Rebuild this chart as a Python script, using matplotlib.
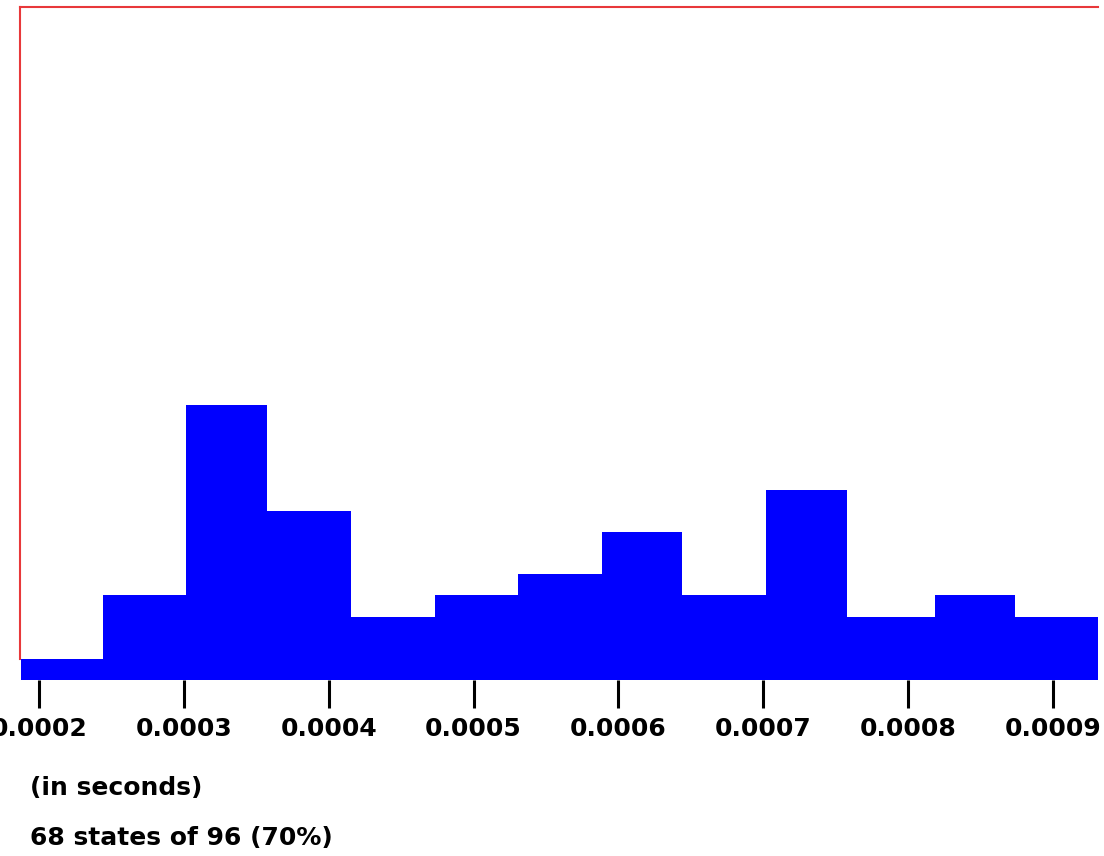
import matplotlib

matplotlib.use("Agg")
import matplotlib.pyplot as plt
import numpy as np

# histogram of state durations (seconds)
bin_edges = [0.0001876, 0.0002442, 0.0003016, 0.0003576, 0.0004156, 0.0004737, 0.0005310,
             0.0005884, 0.0006436, 0.0007017, 0.0007577, 0.0008185, 0.0008738, 0.0009311]
counts = [1, 4, 13, 8, 3, 4, 5, 7, 4, 9, 3, 4, 3]
tick_values = [0.0002, 0.0003, 0.0004, 0.0005, 0.0006, 0.0007, 0.0008, 0.0009]
tick_labels = ["0.0002", "0.0003", "0.0004", "0.0005", "0.0006", "0.0007", "0.0008", "0.0009"]
unit_text = "(in seconds)"
summary_text = "68 states of 96 (70%)"
y_top = 31.8

W, H = 1104, 856
fig = plt.figure(figsize=(W / 100, H / 100), dpi=100)
ax = fig.add_axes([20 / W, 176 / H, 1078 / W, 673 / H])

edges = np.array(bin_edges)
ax.bar(edges[:-1], counts, width=np.diff(edges), align="edge", color="#0000ff",
       edgecolor="none", linewidth=0, zorder=3)

ax.set_xlim(edges[0] - 0.0000007, edges[-1])
ax.set_ylim(0, y_top)

red = "#e8383a"
for side in ("right", "bottom"):
    ax.spines[side].set_visible(False)
for side in ("left", "top"):
    ax.spines[side].set_color(red)
    ax.spines[side].set_linewidth(1.5)
# the red frame stops where the first bar begins
ax.spines["left"].set_bounds(counts[0], y_top)

ax.set_yticks([])
ax.set_xticks(tick_values)
ax.set_xticklabels(tick_labels, fontsize=18, fontweight="bold", family="DejaVu Sans")
ax.tick_params(axis="x", direction="out", length=20, width=2.2, color="black", pad=7)

fig.text(30 / W, 1 - 788 / H, unit_text, fontsize=18, fontweight="bold",
         ha="left", va="center")
fig.text(30 / W, 1 - 838 / H, summary_text, fontsize=18, fontweight="bold",
         ha="left", va="center")

fig.savefig("out.png", dpi=100, facecolor="white")
